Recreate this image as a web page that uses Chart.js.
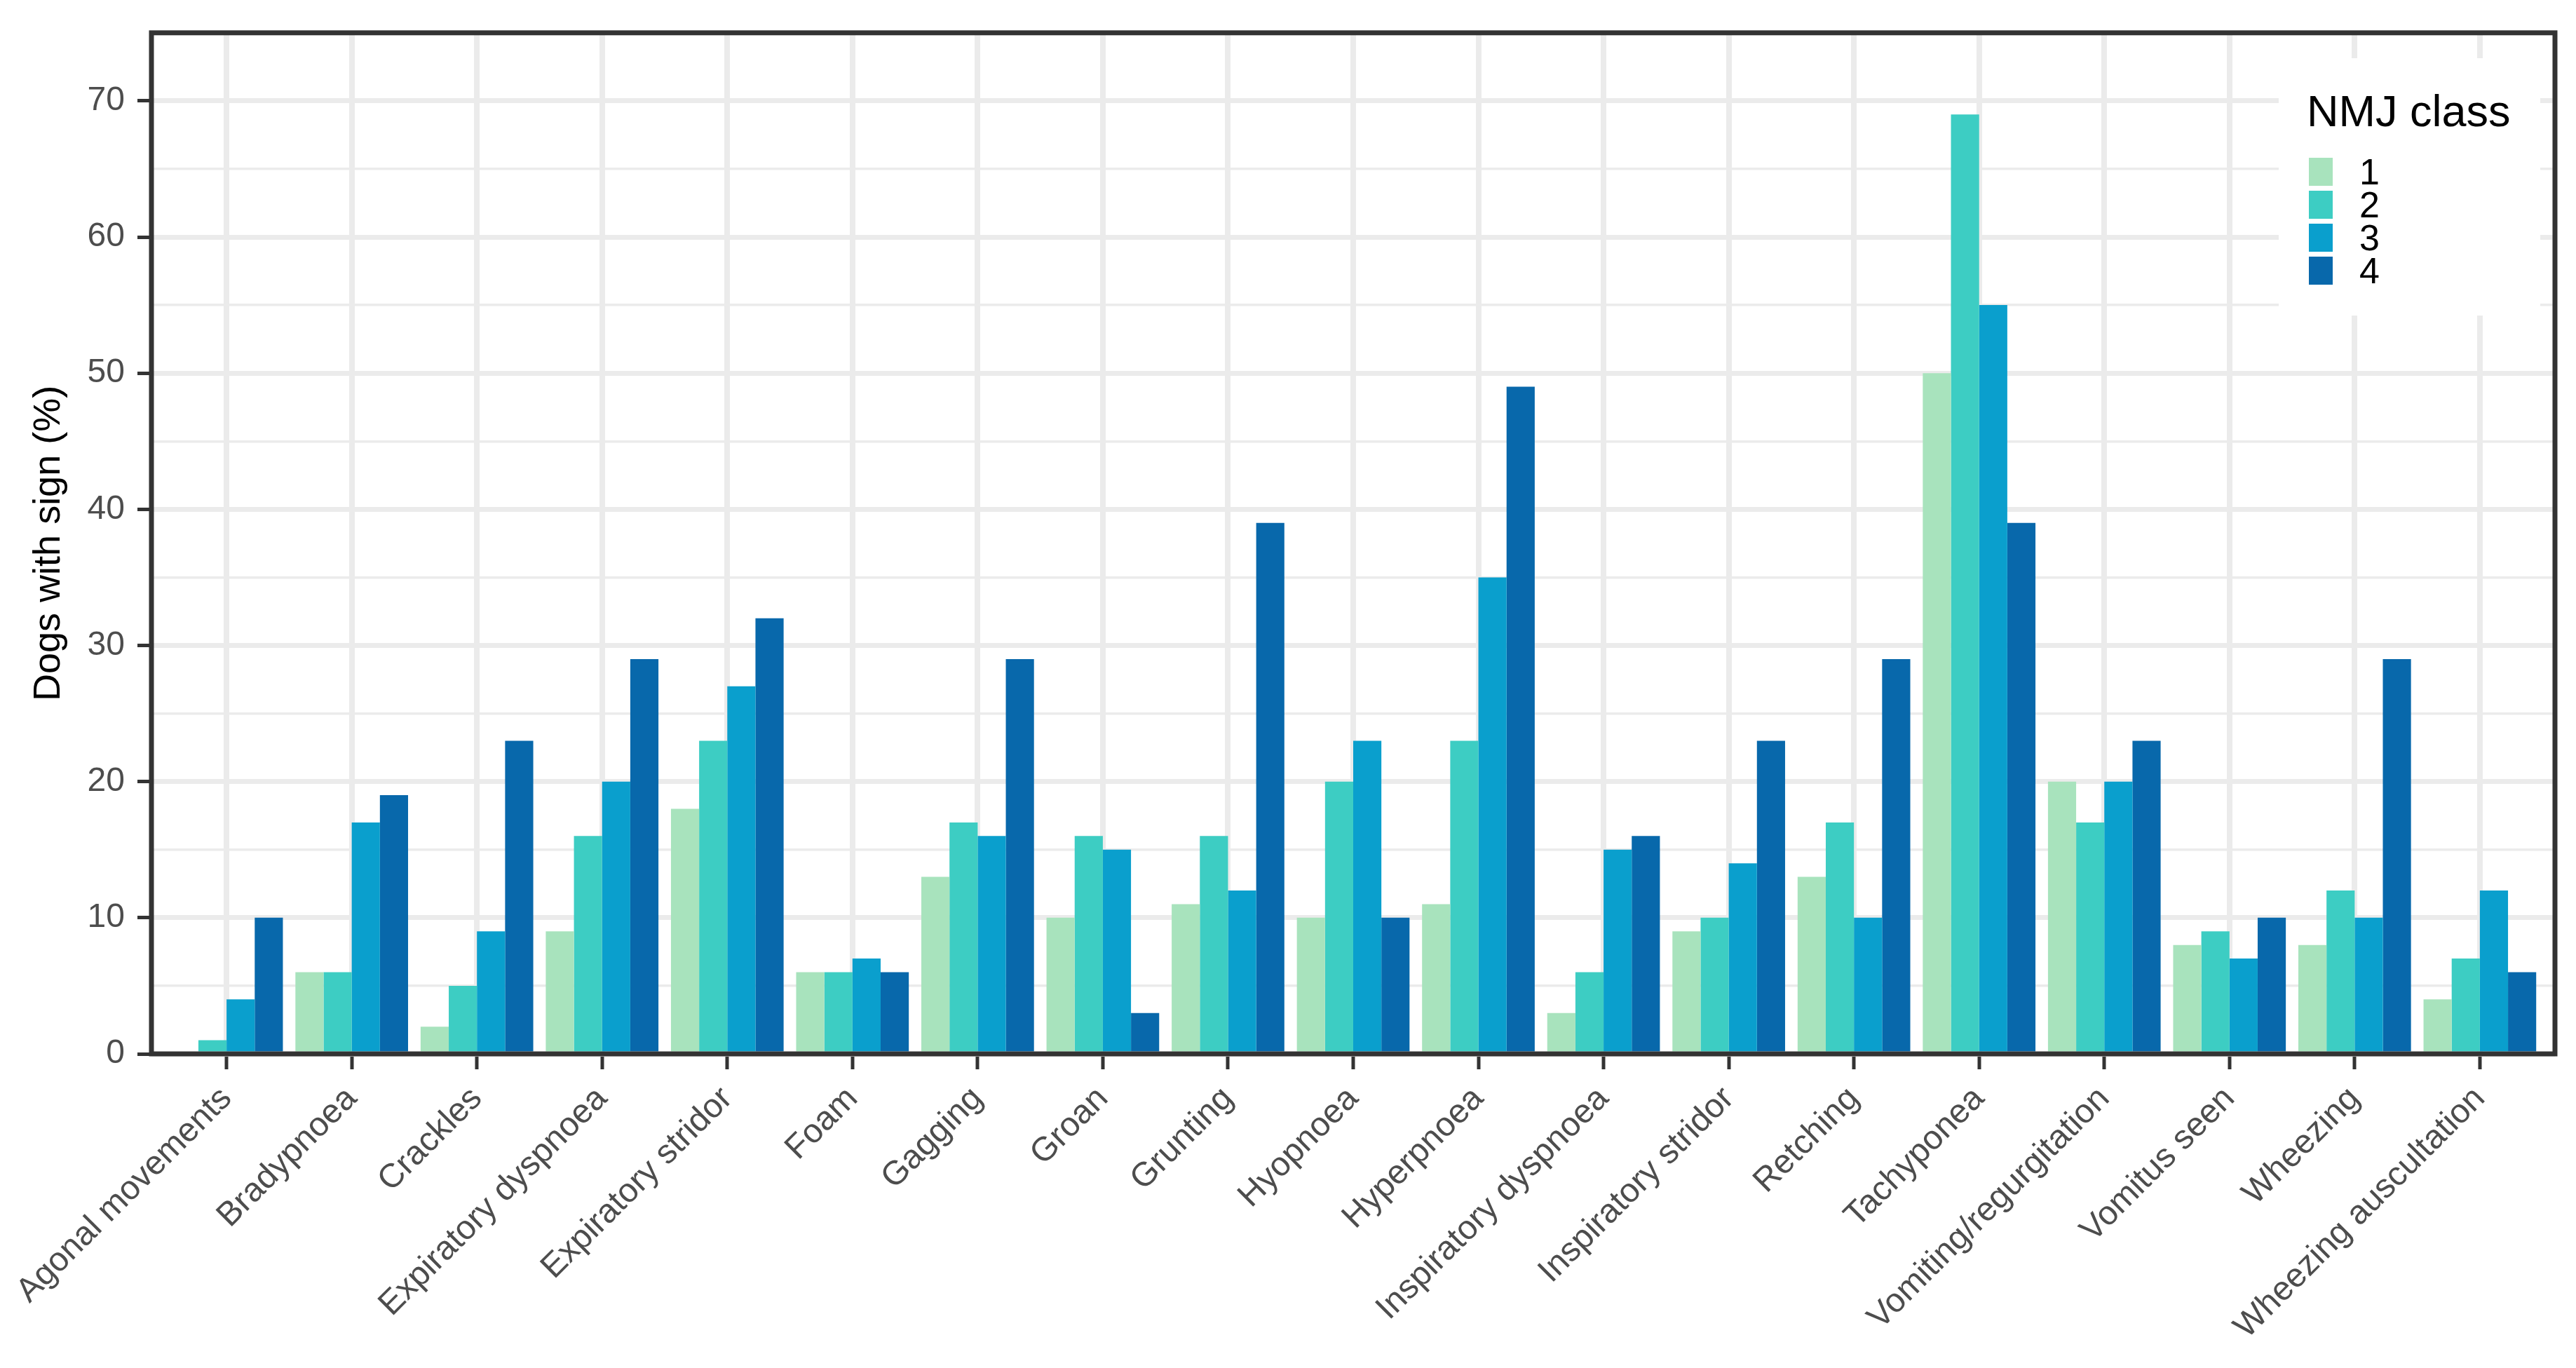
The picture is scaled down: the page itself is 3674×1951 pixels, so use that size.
<!DOCTYPE html>
<html>
<head>
<meta charset="utf-8">
<script src="https://cdn.jsdelivr.net/npm/chart.js@4/dist/chart.umd.min.js"></script>
<style>
  html, body { margin: 0; padding: 0; background: #fff; }
  canvas { display: block; }
</style>
</head>
<body>
<canvas id="grafico" width="3674" height="1951"></canvas>
<script>
const sinais = ["Agonal movements", "Bradypnoea", "Crackles", "Expiratory dyspnoea", "Expiratory stridor",
  "Foam", "Gagging", "Groan", "Grunting", "Hyopnoea", "Hyperpnoea", "Inspiratory dyspnoea",
  "Inspiratory stridor", "Retching", "Tachyponea", "Vomiting/regurgitation", "Vomitus seen",
  "Wheezing", "Wheezing auscultation"];

const classes = ["1", "2", "3", "4"];

const classe1 = [0, 6, 2, 9, 18, 6, 13, 10, 11, 10, 11, 3, 9, 13, 50, 20, 8, 8, 4];
const classe2 = [1, 6, 5, 16, 23, 6, 17, 16, 16, 20, 23, 6, 10, 17, 69, 17, 9, 12, 7];
const classe3 = [4, 17, 9, 20, 27, 7, 16, 15, 12, 23, 35, 15, 14, 10, 55, 20, 7, 10, 12];
const classe4 = [10, 19, 23, 29, 32, 6, 29, 3, 39, 10, 49, 16, 23, 29, 39, 23, 10, 29, 6];

const cores = ["#a8e3bd", "#3dcdc3", "#0a9fcd", "#0868ab"];

const valoresY = { min: 0, max: 75, passo: 5 };

const fonte = "'Liberation Sans', Arial, sans-serif";

// moldura do painel, por cima das barras (como no ggplot)
const moldura = {
  id: "moldura",
  afterDatasetsDraw(chart) {
    const { ctx, chartArea } = chart;
    ctx.save();
    ctx.strokeStyle = "#333333";
    ctx.lineWidth = 7;
    ctx.strokeRect(chartArea.left, chartArea.top, chartArea.right - chartArea.left, chartArea.bottom - chartArea.top);
    ctx.restore();
  }
};

// legenda dentro do painel, canto superior direito
const legendaNmj = {
  id: "legendaNmj",
  afterDatasetsDraw(chart) {
    const { ctx } = chart;
    ctx.save();
    ctx.fillStyle = "#ffffff";
    ctx.fillRect(3250, 83, 373, 367);

    ctx.fillStyle = "#000000";
    ctx.font = "63px " + fonte;
    ctx.textAlign = "left";
    ctx.textBaseline = "alphabetic";
    ctx.fillText("NMJ class", 3290, 180);

    ctx.font = "52px " + fonte;
    chart.data.datasets.forEach((ds, i) => {
      const y = 225 + i * 47;
      ctx.fillStyle = ds.backgroundColor;
      ctx.fillRect(3293, y, 34, 40);
      ctx.fillStyle = "#000000";
      ctx.fillText(ds.label, 3365, y + 38);
    });
    ctx.restore();
  }
};

function criarGrafico(ctx) {
  const series = [classe1, classe2, classe3, classe4];
  return new Chart(ctx, {
    type: "bar",
    data: {
      labels: sinais,
      datasets: series.map((dados, i) => ({
        label: classes[i],
        data: dados,
        backgroundColor: cores[i],
        borderWidth: 0,
        categoryPercentage: 0.9,
        barPercentage: 1.0
      }))
    },
    options: {
      responsive: false,
      devicePixelRatio: 1,
      animation: false,
      layout: { padding: { top: 33, right: 30, left: 0, bottom: 0 } },
      plugins: {
        legend: { display: false },
        tooltip: { enabled: false }
      },
      scales: {
        x: {
          offset: true,
          afterBuildTicks: (escala) => {
            // expansão de 0.6 categoria de cada lado, como o ggplot
            escala._startValue = -0.6;
            escala._valueRange = sinais.length - 1 + 1.2;
          },
          afterFit: (escala) => { escala.height = 448; },
          border: { display: false },
          grid: {
            offset: false,
            color: "#ebebeb",
            lineWidth: 8,
            drawTicks: true,
            tickLength: 22,
            tickColor: "#333333",
            tickWidth: 5
          },
          ticks: {
            autoSkip: false,
            maxRotation: 45,
            minRotation: 45,
            padding: 14,
            color: "#4d4d4d",
            font: { family: fonte, size: 48 }
          }
        },
        y: {
          min: valoresY.min,
          max: valoresY.max,
          afterFit: (escala) => { escala.width = 216; },
          border: { display: false },
          grid: {
            color: "#ebebeb",
            lineWidth: (c) => (c.tick && c.tick.value % 10 === 0 ? 7 : 3.5),
            tickLength: 20,
            tickColor: (c) => (c.tick && c.tick.value % 10 === 0 && c.tick.value < valoresY.max ? "#333333" : "rgba(0,0,0,0)"),
            tickWidth: 5
          },
          ticks: {
            stepSize: valoresY.passo,
            padding: 18,
            color: "#4d4d4d",
            font: { family: fonte, size: 48 },
            callback: (v) => (v % 10 === 0 ? v : "")
          },
          title: {
            display: true,
            text: "Dogs with sign (%)",
            color: "#000000",
            font: { family: fonte, size: 54 },
            padding: { top: 38, bottom: 0 }
          }
        }
      }
    },
    plugins: [legendaNmj, moldura]
  });
}

criarGrafico(document.querySelector("#grafico"));
</script>
</body>
</html>
